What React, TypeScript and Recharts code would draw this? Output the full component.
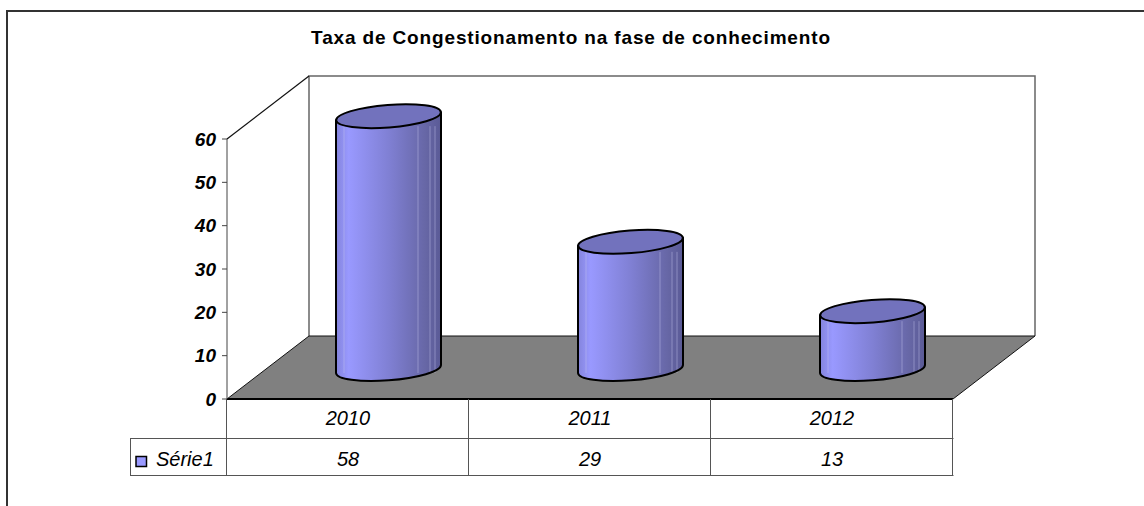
import { Bar, BarChart, XAxis, YAxis } from "recharts";

const categories = ["2010", "2011", "2012"];
const serie1 = [58, 29, 13];
const yTicks = [0, 10, 20, 30, 40, 50, 60];
const seriesName = "Série1";
const chartTitle = "Taxa de Congestionamento na fase de conhecimento";

const data = categories.map((ano, i) => ({ ano, valor: serie1[i] }));

// plot box of the front plane, depth offset goes up and right to the back wall
const LEFT = 227;
const RIGHT = 953;
const TOP = 139;
const BOTTOM = 399;
const DX = 82;
const DY = -63;
const ROW1 = 439;
const ROW2 = 476;
const TABLE_LEFT = 130;

const FONT = "'Liberation Sans', Arial, sans-serif";

function Backdrop() {
    const colWidth = (RIGHT - LEFT) / categories.length;
    return (
        <g>
            <path d="M7 506 L7 11 L1144 11" fill="none" stroke="#333" strokeWidth={2} />
            <text
                x={571}
                y={44}
                textAnchor="middle"
                fontFamily={FONT}
                fontWeight="bold"
                fontSize={19}
                letterSpacing={0.85}
                fill="#000"
            >
                {chartTitle}
            </text>
            <path
                d={`M${LEFT + DX} ${BOTTOM + DY} L${LEFT + DX} ${TOP + DY} L${RIGHT + DX} ${TOP + DY} L${RIGHT + DX} ${BOTTOM + DY}`}
                fill="none"
                stroke="#666"
                strokeWidth={1.5}
            />
            <line x1={LEFT} y1={TOP} x2={LEFT + DX} y2={TOP + DY} stroke="#111" strokeWidth={1.2} />
            <path
                d={`M${LEFT} ${BOTTOM} L${LEFT + DX} ${BOTTOM + DY} L${RIGHT + DX} ${BOTTOM + DY} L${RIGHT} ${BOTTOM} Z`}
                fill="#808080"
                stroke="#111"
                strokeWidth={1}
            />
            <line x1={LEFT} y1={BOTTOM} x2={RIGHT} y2={BOTTOM} stroke="#000" strokeWidth={2} />
            <g stroke="#555" strokeWidth={1} fill="none">
                <path d={`M${TABLE_LEFT} ${ROW1 - 0.5} L${RIGHT + 0.5} ${ROW1 - 0.5}`} />
                <path d={`M${TABLE_LEFT} ${ROW2 - 0.5} L${RIGHT + 0.5} ${ROW2 - 0.5}`} />
                <path d={`M${TABLE_LEFT + 0.5} ${ROW1} L${TABLE_LEFT + 0.5} ${ROW2}`} />
                {[0, 1, 2, 3].map((i) => (
                    <path key={i} d={`M${LEFT + i * colWidth - 0.5} ${BOTTOM} L${LEFT + i * colWidth - 0.5} ${ROW2}`} />
                ))}
            </g>
            <rect x={136} y={456.5} width={10.5} height={10} fill="#9999ff" stroke="#000" strokeWidth={1.5} />
            <text x={156} y={466} fontFamily={FONT} fontStyle="italic" fontSize={20} fill="#000">
                {seriesName}
            </text>
            <defs>
                <linearGradient id="corpo" x1="0" y1="0" x2="1" y2="0">
                    <stop offset="0" stopColor="#8484dc" />
                    <stop offset="0.12" stopColor="#9999ff" />
                    <stop offset="0.5" stopColor="#8080d4" />
                    <stop offset="0.85" stopColor="#6767a6" />
                    <stop offset="1" stopColor="#5a5a96" />
                </linearGradient>
            </defs>
        </g>
    );
}

const streaks = [8, 82, 94, 99];

function Cylinder(props: any) {
    const { x, y, width, height } = props;
    const rx = width / 2;
    const ry = 11.3;
    const tilt = 4;
    const cx = x + rx + DX / 2 - 1;
    const topY = y + DY / 2;
    const baseY = y + height + DY / 2 + 1.5;
    const body = [
        `M${cx - rx} ${topY + tilt}`,
        `L${cx - rx} ${baseY + tilt}`,
        `A${rx} ${ry} -4.5 0 0 ${cx + rx} ${baseY - tilt}`,
        `L${cx + rx} ${topY - tilt}`,
        "Z",
    ].join(" ");
    return (
        <g>
            <path d={body} fill="url(#corpo)" stroke="none" />
            {streaks.map((s) => (
                <line
                    key={s}
                    x1={cx - rx + s}
                    x2={cx - rx + s}
                    y1={topY + 10}
                    y2={baseY + 4}
                    stroke="#c4c4ee"
                    strokeOpacity={0.45}
                    strokeWidth={1}
                />
            ))}
            <path d={body} fill="none" stroke="#000" strokeWidth={2} strokeLinejoin="round" />
            <ellipse
                cx={cx}
                cy={topY}
                rx={rx}
                ry={ry}
                transform={`rotate(-4.5 ${cx} ${topY})`}
                fill="#7272bd"
                stroke="#000"
                strokeWidth={2}
            />
        </g>
    );
}

// the data table under the plot is drawn from the category axis ticks
function TableTick(props: any) {
    const { x, payload, index } = props;
    return (
        <g fontFamily={FONT} fontStyle="italic" fontSize={20} fill="#000" textAnchor="middle">
            <text x={x} y={425}>{payload.value}</text>
            <text x={x} y={466}>{serie1[index]}</text>
        </g>
    );
}

function YTick(props: any) {
    const { x, y, payload } = props;
    return (
        <text x={x - 4} y={y + 6.5} textAnchor="end" fontFamily={FONT} fontStyle="italic" fontWeight="bold" fontSize={19} fill="#000">
            {payload.value}
        </text>
    );
}

export default function App() {
    return (
        <div style={{ position: "fixed", left: 0, top: 0, width: 1144, height: 506, background: "#fff" }}>
            <BarChart
                width={1144}
                height={506}
                data={data}
                margin={{ top: TOP, right: 1144 - RIGHT, bottom: 506 - ROW2, left: LEFT - 60 }}
            >
                <Backdrop />
                <XAxis dataKey="ano" axisLine={false} tickLine={false} height={ROW2 - BOTTOM} tick={<TableTick />} />
                <YAxis
                    domain={[0, 60]}
                    ticks={yTicks}
                    width={60}
                    interval={0}
                    axisLine={{ stroke: "#444" }}
                    tickLine={{ stroke: "#444" }}
                    tickSize={5}
                    tick={<YTick />}
                />
                <Bar dataKey="valor" name={seriesName} barSize={105} shape={<Cylinder />} isAnimationActive={false} />
            </BarChart>
        </div>
    );
}
